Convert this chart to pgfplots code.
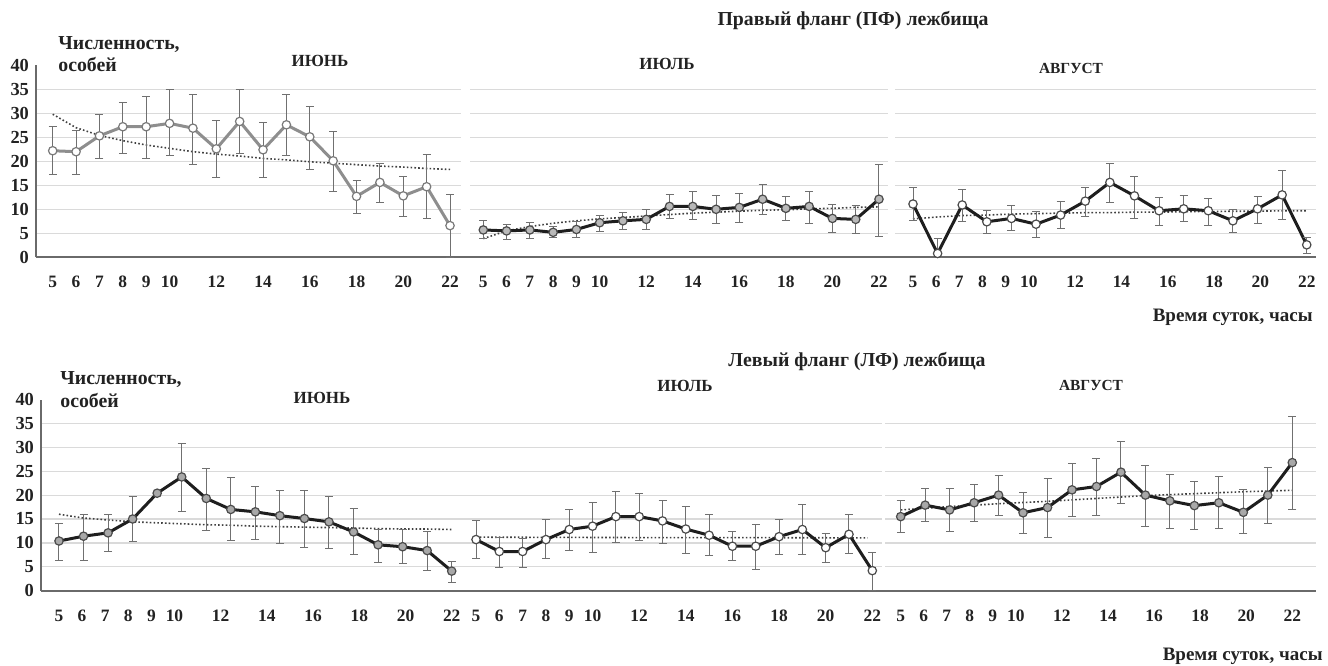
\documentclass[border=0pt]{standalone}
\usepackage{fontspec}
\setmainfont{Liberation Serif}
\usepackage{pgfplots}
\pgfplotsset{compat=1.18}
\usepackage{pgfplotstable}

\definecolor{gridc}{HTML}{DADADA}
\definecolor{axc}{HTML}{6A6A6A}
\definecolor{errc}{HTML}{707070}
\definecolor{lineg}{HTML}{8E8E8E}
\definecolor{txt}{HTML}{222222}
\definecolor{mfill}{HTML}{A8A8A8}
\definecolor{dark}{HTML}{1E1E1E}

\pgfplotsset{
 panel/.style={scale only axis, height=96pt, ymin=0, ymax=40,
  axis x line=bottom, axis y line=left,
  axis line style={-, draw=axc, line width=0.8pt},
  xtick={5,6,7,8,9,10,12,14,16,18,20,22},
  ytick={5,10,...,35}, ymajorgrids, grid style={draw=gridc, line width=0.6pt},
  major tick length=0pt,
  tick label style={font=\bfseries\fontsize{8.7}{9}\selectfont, text=txt},
  yticklabel style={font=\bfseries\fontsize{9.2}{9}\selectfont},
  /pgf/number format/assume math mode=true,
  xticklabel style={anchor=base, yshift=-15.2pt},
  clip=false,
 },
 ylab/.style={ytick={0,5,...,35}, extra y ticks={40}, extra y tick style={grid=none}},
 noylab/.style={yticklabels={}, y axis line style={draw=none}},
 errs/.style={error bars/.cd, y dir=both, y explicit, error mark=-,
   error bar style={line width=0.5pt, draw=errc, solid},
   error mark options={rotate=90, line width=0.5pt, draw=errc, mark size=2pt, solid}},
 trend/.style={line width=0.8pt, draw=black!75, dash pattern=on 0.8pt off 1.1pt, no markers},
}
\tikzset{lbl/.style={font=\bfseries\fontsize{8.5}{10}\selectfont, text=txt, inner sep=0pt}}

\pgfplotstableread{
x y ep em
5 22.2 5.1 5.0
6 22.0 4.5 4.8
7 25.3 4.4 4.8
8 27.2 5.1 5.5
9 27.2 6.4 6.7
10 27.9 7.0 6.7
11 26.9 7.1 7.5
12 22.6 5.9 5.9
13 28.3 6.6 6.6
14 22.4 5.7 5.7
15 27.6 6.4 6.4
16 25.1 6.4 6.9
17 20.1 6.1 6.3
18 12.7 3.3 3.5
19 15.6 4.0 4.2
20 12.8 4.1 4.3
21 14.7 6.8 6.6
22 6.6 6.4 6.6
}\tTJun
\pgfplotstableread{
x y ep em
5 5.7 1.9 1.8
6 5.5 1.4 1.75
7 5.7 1.6 1.8
8 5.2 1.3 1.0
9 5.8 1.6 1.6
10 7.2 1.6 1.9
11 7.6 1.8 1.8
12 7.9 2.0 2.1
13 10.6 2.4 2.6
14 10.6 3.1 2.8
15 10.0 2.8 2.9
16 10.4 2.9 3.1
17 12.1 3.0 3.1
18 10.2 2.4 2.6
19 10.6 3.1 3.5
20 8.1 2.8 2.9
21 7.9 2.8 2.9
22 12.1 7.3 7.7
}\tTJul
\pgfplotstableread{
x y ep em
5 11.1 3.5 3.5
6.0625 0.8 3.1 0.8
7.125 10.9 3.3 3.5
8.1875 7.4 2.3 2.5
9.25 8.1 2.7 2.6
10.3125 6.9 2.6 2.7
11.375 8.8 2.8 2.8
12.4375 11.7 2.9 3.1
13.5 15.6 4.0 4.1
14.5625 12.8 4.1 4.7
15.625 9.7 2.7 3.1
16.6875 10.1 2.7 2.7
17.75 9.7 2.5 3.0
18.8125 7.6 2.3 2.5
19.875 10.1 2.5 3.0
20.9375 13.0 5.0 5.2
22 2.6 1.5 1.9
}\tTAug
\pgfplotstableread{
x y ep em
5 10.4 3.7 4.0
6.0625 11.4 4.6 5.0
7.125 12.1 3.9 4.0
8.1875 15.0 4.8 4.7
9.25 20.4 0 0
10.3125 23.8 7.0 7.3
11.375 19.3 6.3 6.7
12.4375 17.0 6.6 6.4
13.5 16.5 5.3 5.7
14.5625 15.7 5.2 5.9
15.625 15.1 5.8 6.0
16.6875 14.4 5.4 5.5
17.75 12.3 4.8 4.8
18.8125 9.6 3.2 3.7
19.875 9.2 3.6 3.6
20.9375 8.4 3.9 4.1
22 4.1 2.0 2.4
}\tBJun
\pgfplotstableread{
x y ep em
5 10.7 3.9 3.9
6 8.2 2.9 3.4
7 8.2 2.7 3.3
8 10.7 4.1 3.9
9 12.8 4.1 4.4
10 13.5 5.0 5.5
11 15.5 5.2 5.4
12 15.5 4.9 5.1
13 14.6 4.2 4.7
14 12.9 4.7 5.1
15 11.6 4.4 4.3
16 9.3 3.0 2.9
17 9.3 4.6 4.8
18 11.3 3.5 3.8
19 12.8 5.3 5.3
20 9.0 3.0 3.1
21 11.8 4.2 4.1
22 4.2 3.8 4.2
}\tBJul
\pgfplotstableread{
x y ep em
5 15.5 3.3 3.3
6.0625 17.9 3.5 3.5
7.125 16.9 4.5 4.6
8.1875 18.4 3.8 4.0
9.25 20.0 4.2 4.3
10.3125 16.3 4.3 4.3
11.375 17.4 6.0 6.2
12.4375 21.1 5.5 5.6
13.5 21.8 5.9 6.1
14.5625 24.8 6.5 6.5
15.625 20.0 6.1 6.5
16.6875 18.8 5.6 5.8
17.75 17.8 5.0 5.0
18.8125 18.4 5.4 5.4
19.875 16.4 4.7 4.4
20.9375 20.0 5.7 5.9
22 26.8 9.6 9.9
}\tBAug

\begin{document}
\begin{tikzpicture}
\path[use as bounding box] (0,0) rectangle (664pt,332.5pt);

% continuous baselines under the panels
\draw[axc, line width=0.8pt] (18pt,203.85pt) -- (658pt,203.85pt);
\draw[axc, line width=0.8pt] (20.5pt,37.15pt) -- (658pt,37.15pt);

% ---------- top row ----------
\begin{axis}[panel, ylab, at={(18pt,203.85pt)}, width=212.5pt, xmin=4.285, xmax=22.47]
\addplot[trend] coordinates {(5,29.8)(6,27.0)(7,25.4)(8,24.3)(9,23.4)(10,22.7)(11,22.0)(12,21.5)(13,21.1)(14,20.6)(15,20.3)(16,19.9)(17,19.6)(18,19.3)(19,19.0)(20,18.8)(21,18.5)(22,18.3)};
\addplot[lineg, line width=1.5pt, mark=*, mark size=2.1pt, mark options={fill=white, draw=lineg!85!black, line width=0.6pt}, errs] table[x=x, y=y, y error plus=ep, y error minus=em] {\tTJun};
\end{axis}

\begin{axis}[panel, noylab, at={(235pt,203.85pt)}, width=209pt, xmin=4.429, xmax=22.387]
\addplot[trend] coordinates {(5,3.9)(6,5.5)(7,6.4)(8,7.1)(9,7.6)(10,8.0)(11,8.3)(12,8.6)(13,8.9)(14,9.2)(15,9.4)(16,9.6)(17,9.8)(18,9.9)(19,10.1)(20,10.2)(21,10.4)(22,10.5)};
\addplot[dark, line width=1.5pt, mark=*, mark size=2.1pt, mark options={fill=mfill!80!white, draw=dark!80, line width=0.6pt}, errs] table[x=x, y=y, y error plus=ep, y error minus=em] {\tTJul};
\end{axis}

\begin{axis}[panel, noylab, at={(447.5pt,203.85pt)}, width=210.5pt, xmin=4.223, xmax=22.40]
\addplot[trend] coordinates {(5,8.0)(6.0625,8.4)(7.125,8.7)(8.1875,8.8)(9.25,9.0)(10.3125,9.1)(11.375,9.2)(12.4375,9.3)(13.5,9.3)(14.5625,9.4)(15.625,9.4)(16.6875,9.5)(17.75,9.5)(18.8125,9.6)(19.875,9.6)(20.9375,9.7)(22,9.7)};
\addplot[dark, line width=1.5pt, mark=*, mark size=2.1pt, mark options={fill=white, draw=dark!80, line width=0.6pt}, errs] table[x=x, y=y, y error plus=ep, y error minus=em] {\tTAug};
\end{axis}

% ---------- bottom row ----------
\begin{axis}[panel, ylab, at={(20.5pt,37.15pt)}, width=212pt, height=95.6pt, xmin=4.221, xmax=22.576]
\addplot[trend] coordinates {(5,16.0)(6.0625,15.2)(7.125,14.8)(8.1875,14.4)(9.25,14.2)(10.3125,14.0)(11.375,13.8)(12.4375,13.7)(13.5,13.5)(14.5625,13.4)(15.625,13.3)(16.6875,13.2)(17.75,13.1)(18.8125,13.0)(19.875,12.9)(20.9375,12.9)(22,12.8)};
\addplot[dark, line width=1.5pt, mark=*, mark size=2.1pt, mark options={fill=mfill, draw=dark!80, line width=0.6pt}, errs] table[x=x, y=y, y error plus=ep, y error minus=em] {\tBJun};
\end{axis}

\begin{axis}[panel, noylab, at={(231pt,37.15pt)}, width=210pt, height=95.6pt, xmin=4.399, xmax=22.416]
\addplot[trend] coordinates {(5,11.2)(9,11.15)(13,11.1)(17,11.1)(21.8,11.05)};
\addplot[dark, line width=1.5pt, mark=*, mark size=2.1pt, mark options={fill=white, draw=dark!80, line width=0.6pt}, errs] table[x=x, y=y, y error plus=ep, y error minus=em] {\tBJul};
\end{axis}

\begin{axis}[panel, noylab, at={(442.5pt,37.15pt)}, width=215.5pt, height=95.6pt, xmin=4.319, xmax=23.03]
\addplot[trend] coordinates {(5,16.9)(7.125,17.6)(9.25,18.2)(11.375,18.7)(13.5,19.3)(15.625,19.9)(17.75,20.3)(19.875,20.7)(22,21.0)};
\addplot[dark, line width=1.5pt, mark=*, mark size=2.1pt, mark options={fill=mfill, draw=dark!80, line width=0.6pt}, errs] table[x=x, y=y, y error plus=ep, y error minus=em] {\tBAug};
\end{axis}

% ---------- texts ----------
\def\fbig{\fontsize{9.9}{11}\selectfont}
\def\ftime{\fontsize{9.5}{11}\selectfont}
\def\fmon{\fontsize{8.5}{10}\selectfont}
\def\faug{\fontsize{7.7}{9}\selectfont}
\node[lbl, font=\bfseries\fbig, anchor=base] at (426.5pt,319.5pt) {Правый фланг (ПФ) лежбища};
\node[lbl, font=\bfseries\fbig, anchor=base west] at (29pt,307.5pt) {Численность,};
\node[lbl, font=\bfseries\fbig, anchor=base west] at (29pt,296.6pt) {особей};
\node[lbl, font=\bfseries\fmon, anchor=base] at (160pt,299.2pt) {ИЮНЬ};
\node[lbl, font=\bfseries\fmon, anchor=base] at (333.5pt,297.8pt) {ИЮЛЬ};
\node[lbl, font=\bfseries\faug, anchor=base] at (535.5pt,295.5pt) {АВГУСТ};
\node[lbl, font=\bfseries\ftime, anchor=base east] at (656.5pt,171.6pt) {Время суток, часы};

\node[lbl, font=\bfseries\fbig, anchor=base] at (428.5pt,149.2pt) {Левый фланг (ЛФ) лежбища};
\node[lbl, font=\bfseries\fbig, anchor=base west] at (30pt,140pt) {Численность,};
\node[lbl, font=\bfseries\fbig, anchor=base west] at (30pt,128.7pt) {особей};
\node[lbl, font=\bfseries\fmon, anchor=base] at (161pt,130.8pt) {ИЮНЬ};
\node[lbl, font=\bfseries\fmon, anchor=base] at (342.5pt,136.7pt) {ИЮЛЬ};
\node[lbl, font=\bfseries\faug, anchor=base] at (545.5pt,137.2pt) {АВГУСТ};
\node[lbl, font=\bfseries\ftime, anchor=base east] at (661.5pt,2.4pt) {Время суток, часы};
\end{tikzpicture}
\end{document}
